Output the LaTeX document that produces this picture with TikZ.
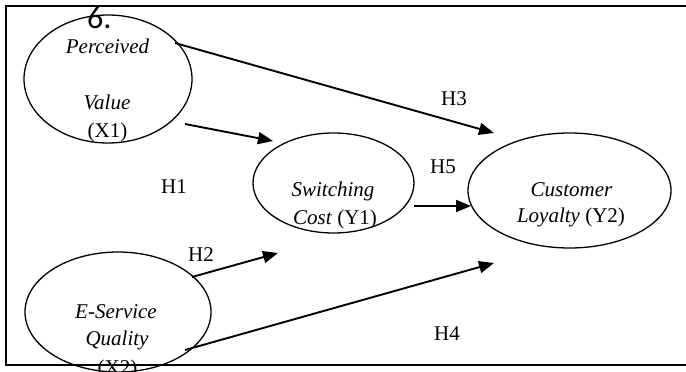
\documentclass[tikz,border=0pt]{standalone}
\usepackage{fontspec}
\setmainfont{Liberation Serif}
\newfontfamily\numfont{Carlito}
\usetikzlibrary{arrows.meta,shapes.geometric}
\begin{document}
\begin{tikzpicture}[x=1pt,y=-1pt,
  construct/.style={draw, ellipse, line width=1.3pt, inner sep=0pt},
  lbl/.style={anchor=base, inner sep=0pt, font=\fontsize{21}{24}\selectfont},
  patharrow/.style={line width=1.9pt, -{Triangle[length=15pt,width=12pt]}},
  frameline/.style={line width=1.8pt}]
\useasboundingbox (0,0) rectangle (686,372);

% open frame (no right side)
\draw[frameline] (686,6) -- (6,6) -- (6,365) -- (686,365);

% constructs
\node[construct, minimum width=168pt, minimum height=128pt] (x1) at (108,79) {};
\node[construct, minimum width=186pt, minimum height=120pt] (x2) at (118,312) {};
\node[construct, minimum width=161pt, minimum height=100pt] (y1) at (333.5,183) {};
\node[construct, minimum width=203pt, minimum height=115pt] (y2) at (569.5,190.5) {};

% construct texts
\node[lbl] (x1a) at (107.5,53) {\textit{Perceived}};
\node[lbl] (x1b) at (107,109) {\textit{Value}};
\node[lbl] (x1c) at (107.5,137) {(X1)};
\node[lbl] (x2a) at (116,318) {\textit{E-Service}};
\node[lbl] (x2b) at (117,345) {\textit{Quality}};
\node[lbl] (x2c) at (117.5,374) {(X2)};
\node[lbl] (y1a) at (333,196.5) {\textit{Switching}};
\node[lbl] (y1b) at (335,224) {\textit{Cost} (Y1)};
\node[lbl] (y2a) at (571.5,196) {\textit{Customer}};
\node[lbl] (y2b) at (571,222.5) {\textit{Loyalty} (Y2)};

% hypothesis labels
\node[lbl] (h1) at (174,193.5) {H1};
\node[lbl] (h2) at (201,261.5) {H2};
\node[lbl] (h3) at (454,105) {H3};
\node[lbl] (h4) at (447,340) {H4};
\node[lbl] (h5) at (443,173) {H5};

% number
\node[anchor=base west, inner sep=0pt, font=\numfont\fontsize{32}{34}\selectfont] (num) at (87,28) {6.};

% arrow end points
\coordinate (p1s) at (185,124);
\coordinate (p1e) at (273,141);
\coordinate (p2s) at (192,277);
\coordinate (p2e) at (278,253);
\coordinate (p3s) at (175,43);
\coordinate (p3e) at (494,133);
\coordinate (p4s) at (185,350);
\coordinate (p4e) at (494,263);
\coordinate (p5s) at (414,206);
\coordinate (p5e) at (471,206);

\draw[patharrow] (p1s) -- (p1e);
\draw[patharrow] (p2s) -- (p2e);
\draw[patharrow] (p3s) -- (p3e);
\draw[patharrow] (p4s) -- (p4e);
\draw[patharrow] (p5s) -- (p5e);
\end{tikzpicture}
\end{document}
